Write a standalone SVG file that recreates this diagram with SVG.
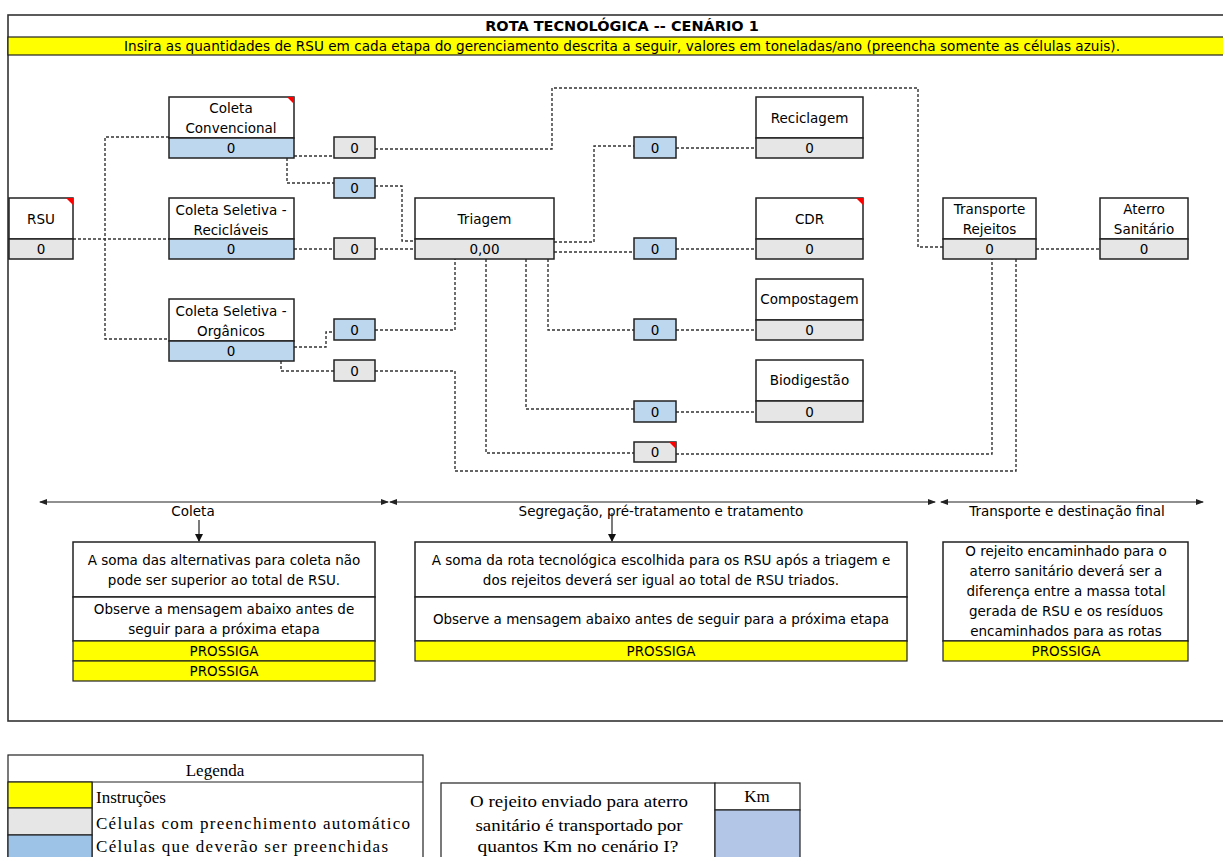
<svg xmlns="http://www.w3.org/2000/svg" width="1223" height="857" viewBox="0 0 1223 857">
<style>
.t{font-family:"DejaVu Sans",Verdana,sans-serif;font-size:13.5px;fill:#000;text-anchor:middle}
.s{font-family:"Liberation Serif","Times New Roman",serif;font-size:17px;fill:#000}
.bx{fill:#fff;stroke:#222;stroke-width:1.5}
.bl{fill:#BDD7EE;stroke:#222;stroke-width:1.5}
.gr{fill:#E6E6E6;stroke:#222;stroke-width:1.5}
.ye{fill:#FFFF00;stroke:#222;stroke-width:1.2}
.c path{fill:none;stroke:#333;stroke-width:1.4;stroke-dasharray:3 2}
.red{fill:#FF0000}
.ar{fill:none;stroke:#222;stroke-width:1.2}
</style>
<defs>
<marker id="ah" markerWidth="8" markerHeight="6" refX="7" refY="3" orient="auto-start-reverse" markerUnits="userSpaceOnUse">
<path d="M0,0 L8,3 L0,6 Z" fill="#222"/>
</marker>
<marker id="dh" markerWidth="8" markerHeight="8" refX="4" refY="7" orient="0" markerUnits="userSpaceOnUse">
<path d="M0,0 L8,0 L4,8 Z" fill="#111"/>
</marker>
</defs>
<rect width="1223" height="857" fill="#fff"/>
<!-- frame -->
<rect x="8" y="15" width="1230" height="706" fill="#fff" stroke="#333" stroke-width="1.6"/>
<text x="622" y="31" class="t" style="font-weight:bold;font-size:14.5px">ROTA TECNOLÓGICA -- CENÁRIO 1</text>
<rect x="8" y="37" width="1230" height="18" class="ye"/>
<text x="622" y="51" class="t" textLength="996" lengthAdjust="spacingAndGlyphs">Insira as quantidades de RSU em cada etapa do gerenciamento descrita a seguir, valores em toneladas/ano (preencha somente as células azuis).</text>

<g class="c" id="connectors">
<path d="M73,239 H169"/>
<path d="M169,137 H105 V339 H169"/>
<path d="M294,156 H334"/>
<path d="M375,149 H552 V88 H918 V247 H943"/>
<path d="M287,158 V183 H334"/>
<path d="M375,186 H402 V241 H415"/>
<path d="M294,249 H334"/>
<path d="M375,249 H415"/>
<path d="M294,347 H326 V332 H334"/>
<path d="M375,330 H455 V259"/>
<path d="M281,361 V371 H334"/>
<path d="M375,371 H455 V471 H1016 V259"/>
<path d="M554,242 H594 V146 H634"/>
<path d="M676,148 H756"/>
<path d="M554,252 H634"/>
<path d="M676,249 H756"/>
<path d="M548,259 V330 H634"/>
<path d="M676,330 H756"/>
<path d="M526,259 V409 H634"/>
<path d="M676,412 H756"/>
<path d="M486,259 V453 H634"/>
<path d="M676,454 H992 V259"/>
<path d="M1036,249 H1100"/>
</g>

<g id="rsu">
<rect x="9" y="198" width="64" height="41" class="bx"/>
<rect x="9" y="239" width="64" height="20" class="gr"/>
<path d="M66,198 H73 V205 Z" class="red"/>
<text x="41" y="224" class="t">RSU</text>
<text x="41" y="254" class="t">0</text>
</g>
<g id="coleta-convencional">
<rect x="169" y="97" width="125" height="41" class="bx"/>
<rect x="169" y="138" width="125" height="20" class="bl"/>
<path d="M287,97 H294 V104 Z" class="red"/>
<text x="231" y="113" class="t">Coleta</text>
<text x="231" y="133" class="t">Convencional</text>
<text x="231" y="153" class="t">0</text>
</g>
<g id="coleta-reciclaveis">
<rect x="169" y="198" width="125" height="41" class="bx"/>
<rect x="169" y="239" width="125" height="20" class="bl"/>
<text x="231" y="215" class="t">Coleta Seletiva -</text>
<text x="231" y="235" class="t">Recicláveis</text>
<text x="231" y="254" class="t">0</text>
</g>
<g id="coleta-organicos">
<rect x="169" y="299" width="125" height="42" class="bx"/>
<rect x="169" y="341" width="125" height="20" class="bl"/>
<text x="231" y="315.5" class="t">Coleta Seletiva -</text>
<text x="231" y="335.5" class="t">Orgânicos</text>
<text x="231" y="355.5" class="t">0</text>
</g>
<g id="v-conv-transp"><rect x="334" y="137" width="41" height="21" class="gr"/><text x="354.5" y="152.5" class="t">0</text></g>
<g id="v-conv-triagem"><rect x="334" y="178" width="41" height="20" class="bl"/><text x="354.5" y="193" class="t">0</text></g>
<g id="v-recic-triagem"><rect x="334" y="238" width="41" height="21" class="gr"/><text x="354.5" y="254" class="t">0</text></g>
<g id="v-org-triagem"><rect x="334" y="319" width="41" height="21" class="bl"/><text x="354.5" y="335" class="t">0</text></g>
<g id="v-org-transp"><rect x="334" y="360" width="41" height="21" class="gr"/><text x="354.5" y="376" class="t">0</text></g>

<g id="triagem">
<rect x="415" y="198" width="139" height="41" class="bx"/>
<rect x="415" y="239" width="139" height="20" class="gr"/>
<text x="484.5" y="224" class="t">Triagem</text>
<text x="484.5" y="254" class="t">0,00</text>
</g>

<g id="v-reciclagem"><rect x="634" y="137" width="42" height="21" class="bl"/><text x="655" y="152.5" class="t">0</text></g>
<g id="v-cdr"><rect x="634" y="238" width="42" height="21" class="bl"/><text x="655" y="254" class="t">0</text></g>
<g id="v-compostagem"><rect x="634" y="319" width="42" height="21" class="bl"/><text x="655" y="335" class="t">0</text></g>
<g id="v-biodigestao"><rect x="634" y="401" width="42" height="21" class="bl"/><text x="655" y="416.5" class="t">0</text></g>
<g id="v-rejeitos"><rect x="634" y="442" width="42" height="20" class="gr"/><path d="M669,442 H676 V449 Z" class="red"/><text x="655" y="457" class="t">0</text></g>

<g id="reciclagem">
<rect x="756" y="97" width="107" height="41" class="bx"/>
<rect x="756" y="138" width="107" height="20" class="gr"/>
<text x="809.5" y="123" class="t">Reciclagem</text>
<text x="809.5" y="153" class="t">0</text>
</g>
<g id="cdr">
<rect x="756" y="198" width="107" height="41" class="bx"/>
<rect x="756" y="239" width="107" height="20" class="gr"/>
<path d="M856,198 H863 V205 Z" class="red"/>
<text x="809.5" y="224" class="t">CDR</text>
<text x="809.5" y="254" class="t">0</text>
</g>
<g id="compostagem">
<rect x="756" y="279" width="107" height="41" class="bx"/>
<rect x="756" y="320" width="107" height="20" class="gr"/>
<text x="809.5" y="304" class="t">Compostagem</text>
<text x="809.5" y="335" class="t">0</text>
</g>
<g id="biodigestao">
<rect x="756" y="360" width="107" height="41" class="bx"/>
<rect x="756" y="401" width="107" height="21" class="gr"/>
<text x="809.5" y="385" class="t">Biodigestão</text>
<text x="809.5" y="416.5" class="t">0</text>
</g>
<g id="transporte">
<rect x="943" y="198" width="93" height="41" class="bx"/>
<rect x="943" y="239" width="93" height="20" class="gr"/>
<text x="989.5" y="214" class="t">Transporte</text>
<text x="989.5" y="234" class="t">Rejeitos</text>
<text x="989.5" y="254" class="t">0</text>
</g>
<g id="aterro">
<rect x="1100" y="198" width="88" height="41" class="bx"/>
<rect x="1100" y="239" width="88" height="20" class="gr"/>
<text x="1144" y="214" class="t">Aterro</text>
<text x="1144" y="234" class="t">Sanitário</text>
<text x="1144" y="254" class="t">0</text>
</g>

<g id="stages">
<path d="M40,502 H388" class="ar" marker-start="url(#ah)" marker-end="url(#ah)"/>
<path d="M390,502 H935" class="ar" marker-start="url(#ah)" marker-end="url(#ah)"/>
<path d="M941,502 H1203" class="ar" marker-start="url(#ah)" marker-end="url(#ah)"/>
<text x="193" y="516" class="t">Coleta</text>
<text x="661" y="516" class="t">Segregação, pré-tratamento e tratamento</text>
<text x="1067" y="516" class="t">Transporte e destinação final</text>
<path d="M199,520 V541" class="ar" marker-end="url(#dh)"/>
<path d="M612,513 V541" class="ar" marker-end="url(#dh)"/>
</g>

<g id="box-coleta">
<rect x="73" y="542" width="302" height="55" class="bx"/>
<rect x="73" y="597" width="302" height="44" class="bx"/>
<rect x="73" y="641" width="302" height="20" class="ye"/>
<rect x="73" y="661" width="302" height="20" class="ye"/>
<text x="224" y="565" class="t">A soma das alternativas para coleta não</text>
<text x="224" y="585" class="t">pode ser superior ao total de RSU.</text>
<text x="224" y="614" class="t">Observe a mensagem abaixo antes de</text>
<text x="224" y="634" class="t">seguir para a próxima etapa</text>
<text x="224" y="656" class="t">PROSSIGA</text>
<text x="224" y="676" class="t">PROSSIGA</text>
</g>
<g id="box-segregacao">
<rect x="415" y="542" width="492" height="55" class="bx"/>
<rect x="415" y="597" width="492" height="44" class="bx"/>
<rect x="415" y="641" width="492" height="20" class="ye"/>
<text x="661" y="565" class="t">A soma da rota tecnológica escolhida para os RSU após a triagem e</text>
<text x="661" y="585" class="t">dos rejeitos deverá ser igual ao total de RSU triados.</text>
<text x="661" y="624" class="t">Observe a mensagem abaixo antes de seguir para a próxima etapa</text>
<text x="661" y="656" class="t">PROSSIGA</text>
</g>
<g id="box-transporte">
<rect x="943" y="542" width="245" height="99" class="bx"/>
<rect x="943" y="641" width="245" height="20" class="ye"/>
<text x="1066" y="556" class="t">O rejeito encaminhado para o</text>
<text x="1066" y="576" class="t">aterro sanitário deverá ser a</text>
<text x="1066" y="596" class="t">diferença entre a massa total</text>
<text x="1066" y="616" class="t">gerada de RSU e os resíduos</text>
<text x="1066" y="636" class="t">encaminhados para as rotas</text>
<text x="1066" y="656" class="t">PROSSIGA</text>
</g>

<g id="legenda">
<rect x="8" y="755" width="415" height="110" fill="#fff" stroke="#222" stroke-width="1.2"/>
<line x1="8" y1="782" x2="423" y2="782" stroke="#222" stroke-width="1.2"/>
<line x1="92" y1="782" x2="92" y2="865" stroke="#222" stroke-width="1.2"/>
<rect x="8" y="782" width="84" height="26" fill="#FFFF00" stroke="#222" stroke-width="1.2"/>
<rect x="8" y="808" width="84" height="27" fill="#E6E6E6" stroke="#222" stroke-width="1.2"/>
<rect x="8" y="835" width="84" height="30" fill="#9DC3E6" stroke="#222" stroke-width="1.2"/>
<text x="215" y="776" class="s" text-anchor="middle">Legenda</text>
<text x="96" y="803" class="s">Instruções</text>
<text x="96" y="829" class="s" textLength="314" lengthAdjust="spacing">Células com preenchimento automático</text>
<text x="96" y="852" class="s" textLength="292" lengthAdjust="spacing">Células que deverão ser preenchidas</text>
</g>
<g id="km">
<rect x="441" y="783" width="274" height="80" fill="#fff" stroke="#222" stroke-width="1.2"/>
<rect x="715" y="783" width="85" height="27" fill="#fff" stroke="#222" stroke-width="1.2"/>
<rect x="715" y="810" width="85" height="53" fill="#B4C6E7" stroke="#222" stroke-width="1.2"/>
<text x="579" y="807" class="s" text-anchor="middle" textLength="218" lengthAdjust="spacingAndGlyphs">O rejeito enviado para aterro</text>
<text x="579" y="831" class="s" text-anchor="middle" textLength="207" lengthAdjust="spacingAndGlyphs">sanitário é transportado por</text>
<text x="578" y="852" class="s" text-anchor="middle" textLength="201" lengthAdjust="spacingAndGlyphs">quantos Km no cenário I?</text>
<text x="757" y="802" class="s" text-anchor="middle">Km</text>
</g>
</svg>
